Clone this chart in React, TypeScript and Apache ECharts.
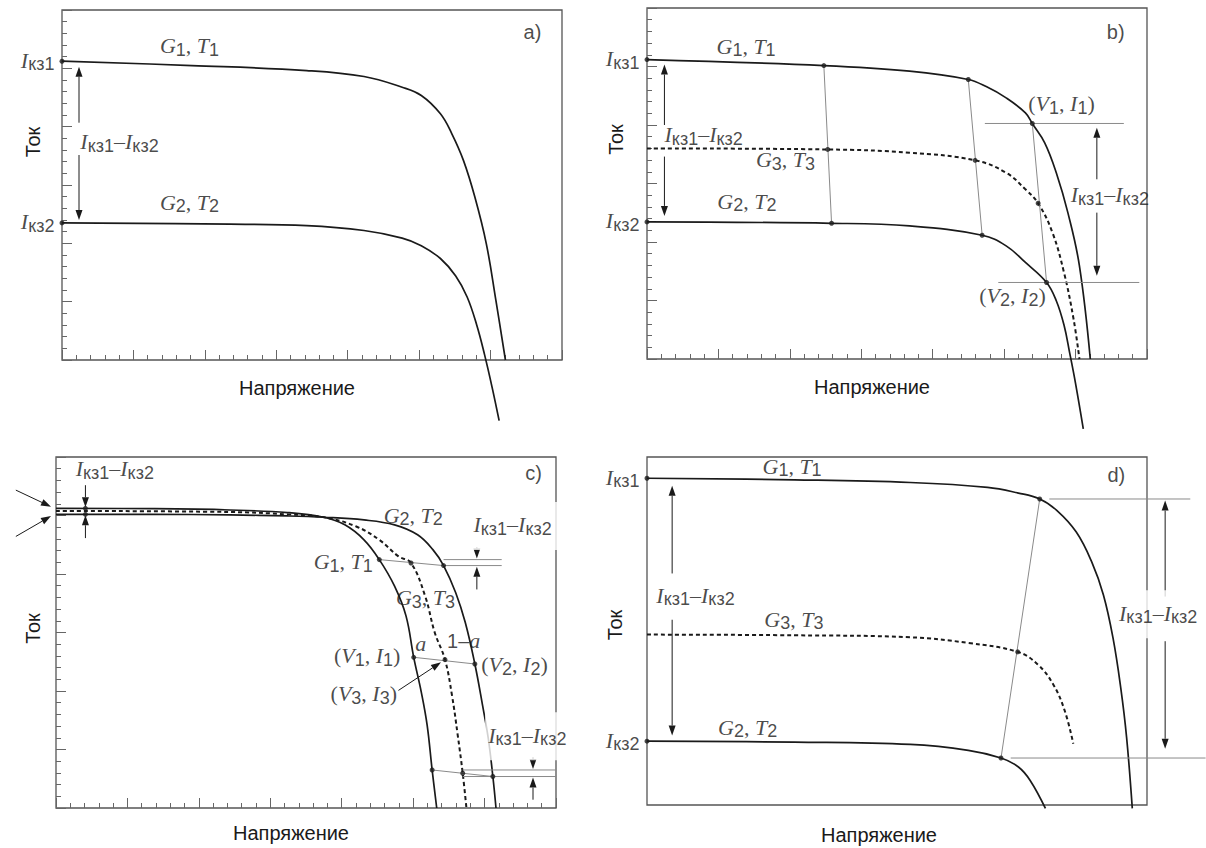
import React, { useEffect, useRef } from 'react';
import * as echarts from 'echarts';

const INK = '#1a1a1a';
const GRAY = '#8a8a8a';

// ---------- rich-text helpers ----------
const isc = (n: number) => `{I|I}{s|кз${n}}`;
const DIFF = `${isc(1)}{n|–}${isc(2)}`;
const gt = (n: number) => `{I|G}{s|${n}}{n|, }{I|T}{s|${n}}`;
const vi = (n: number) => `{n|(}{I|V}{s|${n}}{n|, }{I|I}{s|${n}}{n|)}`;

const X_TITLE = 'Напряжение';
const Y_TITLE = 'Ток';

// ---------- panel a ----------
const A_G1 = [[0, 25.61], [9.1, 25.24], [17.13, 24.81], [21.14, 24.3], [23.81, 23.38], [25.15, 22.67], [26.49, 21.1], [27.29, 19.39], [28.1, 17.11], [28.9, 13.97], [29.7, 9.98], [30.37, 5.13], [31.04, 0]];
const A_G2 = [[0, 11.75], [11.77, 11.64], [17.13, 11.52], [21.14, 11.1], [23.81, 10.45], [25.15, 9.8], [26.49, 8.7], [27.56, 7.2], [28.36, 5.4], [29.03, 3.0], [29.57, 0.5], [30.1, -2.3], [30.6, -5.2]];
const A_ISC = [[0, 25.61, 1], [0, 11.75, 2]];
const A_DOTS: number[][] = [];
const A_LINES: number[][][] = [];
const A_ARROWS = [[[1.19, 20.34], [1.19, 25.14]], [[1.19, 17.57], [1.19, 12.0]]];
const A_TEXT = [
  { x: 8.96, y: 26.81, t: gt(1) },
  { x: 8.96, y: 13.4, t: gt(2) },
  { x: 4.06, y: 18.6, t: DIFF },
  { x: 32.97, y: 28.11, t: '{L|a)}' },
];

// ---------- panel b ----------
const B_G1 = [[0, 25.59], [12.38, 25.08], [18.38, 24.6], [22.49, 23.89], [23.78, 23.26], [25.14, 22.32], [26.49, 21.04], [26.97, 20.13], [27.84, 18.48], [28.65, 15.92], [29.46, 12.51], [30.27, 7.96], [31.03, 0]];
const B_G2 = [[0, 11.72], [12.92, 11.6], [18.38, 11.37], [23.46, 10.58], [25.14, 9.67], [26.49, 8.25], [27.97, 6.54], [28.65, 4.98], [29.19, 2.9], [29.59, 0.5], [30.0, -2.1], [30.54, -5.97]];
const B_G3 = [[0, 18.0], [12.65, 17.91], [18.38, 17.63], [22.97, 16.98], [25.14, 15.92], [26.49, 14.5], [27.38, 13.31], [28.38, 10.81], [29.19, 7.39], [29.86, 3.41], [30.27, 0]];
const B_ISC = [[0, 25.59, 1], [0, 11.72, 2]];
const B_DOTS = [[12.38, 25.08], [22.49, 23.89], [26.97, 20.13], [12.65, 17.91], [22.97, 16.98], [27.38, 13.31], [12.92, 11.6], [23.46, 10.58], [27.97, 6.54]];
const B_LINES = [
  [[12.38, 25.08], [12.92, 11.6]], [[22.49, 23.89], [23.46, 10.58]], [[26.97, 20.13], [27.97, 6.54]],
  [[23.65, 20.13], [33.38, 20.13]], [[24.59, 6.54], [34.46, 6.54]],
];
const B_ARROWS = [
  [[1.22, 20.0], [1.22, 25.17]], [[1.22, 17.3], [1.22, 12.23]],
  [[31.49, 15.36], [31.49, 19.76]], [[31.49, 12.51], [31.49, 7.11]],
];
const B_TEXT = [
  { x: 6.97, y: 26.59, t: gt(1) },
  { x: 9.73, y: 16.92, t: gt(3) },
  { x: 7.03, y: 13.37, t: gt(2) },
  { x: 4.0, y: 19.05, t: DIFF },
  { x: 29.05, y: 21.67, t: vi(1) },
  { x: 25.62, y: 5.26, t: vi(2) },
  { x: 32.84, y: 27.87, t: '{L|b)}' },
  { x: 32.43, y: 13.93, t: DIFF },
];

// ---------- panel c ----------
const C_G1 = [[0, 25.61], [6.83, 25.58], [12.18, 25.47], [16.2, 25.25], [18.75, 24.85], [20.22, 24.2], [21.56, 22.92], [22.63, 21.23], [23.7, 18.96], [24.5, 16.42], [25.04, 12.88], [25.57, 9.91], [25.98, 7.08], [26.33, 3.25], [26.65, 0]];
const C_G2 = [[0, 25.1], [6.83, 25.1], [12.18, 25.05], [16.2, 24.96], [18.75, 24.85], [21.56, 24.62], [23.7, 24.2], [25.31, 23.35], [26.38, 22.08], [27.13, 20.72], [27.98, 18.4], [28.65, 15.85], [29.32, 12.31], [29.86, 8.77], [30.26, 5.94], [30.58, 2.69], [30.8, 0]];
const C_G3 = [[0, 25.39], [12.18, 25.3], [16.2, 25.1], [18.75, 24.85], [21.02, 24.06], [22.63, 22.92], [23.97, 21.51], [24.85, 20.94], [25.84, 18.11], [26.51, 15.0], [27.23, 12.68], [27.72, 9.62], [28.12, 6.23], [28.47, 2.97], [28.73, 0]];
const C_ISC: number[][] = [];
const C_DOTS = [[22.63, 21.23], [24.85, 20.94], [27.13, 20.72], [25.04, 12.88], [27.23, 12.68], [29.32, 12.31], [26.33, 3.25], [28.47, 2.97], [30.58, 2.69], [2.06, 25.61], [2.06, 25.1]];
const C_LINES = [
  [[22.63, 21.23], [27.13, 20.72]], [[27.13, 21.23], [31.2, 21.23]], [[27.13, 20.72], [31.2, 20.72]],
  [[25.04, 12.88], [29.32, 12.31]],
  [[26.33, 3.25], [30.58, 2.69]], [[28.47, 3.25], [35, 3.25]], [[28.47, 2.69], [35, 2.69]],
];
const C_ARROWS = [
  [[2.06, 27.59], [2.06, 25.7]], [[2.06, 23.07], [2.06, 25.02]],
  [[-2.81, 27.17], [-0.35, 25.75]], [[-2.81, 23.21], [-0.35, 24.95]],
  [[29.46, 22.3], [29.46, 21.32]], [[29.46, 18.68], [29.46, 20.62]],
  [[33.39, 4.35], [33.39, 3.33]], [[33.39, 0.71], [33.39, 2.6]],
  [[23.97, 10.05], [26.95, 12.45]],
];
const C_TEXT = [
  { x: 4.15, y: 28.87, t: DIFF },
  { x: 33.47, y: 28.58, t: '{L|c)}' },
  { x: 25.04, y: 24.91, t: gt(2) },
  { x: 20.14, y: 20.94, t: gt(1) },
  { x: 25.9, y: 17.83, t: gt(3) },
  { x: 25.57, y: 13.95, t: '{I|a}' },
  { x: 28.57, y: 14.21, t: '{L|1–}{I|a}' },
  { x: 21.82, y: 12.88, t: vi(1) },
  { x: 32.13, y: 12.11, t: vi(2) },
  { x: 21.58, y: 9.62, t: vi(3) },
  { x: 32.1, y: 24.06, t: DIFF, bg: true },
  { x: 33.13, y: 6.08, t: DIFF, bg: true },
];

// ---------- panel d ----------
const D_G1 = [[0, 28.17], [10.32, 28.03], [18.43, 27.8], [23.84, 27.38], [26.0, 26.89], [27.49, 26.38], [28.7, 25.38], [30.05, 23.53], [31.13, 20.96], [31.95, 18.11], [32.62, 14.4], [33.16, 10.12], [33.57, 5.85], [33.97, -0.29]];
const D_G2 = [[0, 5.5], [10.32, 5.42], [18.43, 5.22], [22.49, 4.71], [24.78, 4.05], [26.0, 3.28], [26.81, 2.14], [27.89, -0.29]];
const D_G3 = [[0, 14.69], [10.32, 14.63], [18.43, 14.46], [22.49, 13.97], [25.95, 13.2], [27.35, 12.12], [28.43, 10.41], [29.24, 8.13], [29.84, 5.28]];
const D_ISC = [[0, 28.17, 1], [0, 5.5, 2]];
const D_DOTS = [[27.49, 26.38], [25.95, 13.2], [24.78, 4.05]];
const D_LINES = [[[27.49, 26.38], [24.78, 4.05]], [[28.16, 26.38], [38.03, 26.38]], [[25.46, 4.05], [39.1, 4.05]]];
const D_ARROWS = [
  [[1.76, 19.96], [1.76, 27.52]], [[1.76, 15.97], [1.76, 5.99]],
  [[36.27, 17.97], [36.27, 26.24]], [[36.27, 14.12], [36.27, 4.85]],
];
const D_TEXT = [
  { x: 10.19, y: 29.09, t: gt(1) },
  { x: 10.32, y: 15.88, t: gt(3) },
  { x: 7.08, y: 6.56, t: gt(2) },
  { x: 32.89, y: 28.37, t: '{L|d)}' },
  { x: 3.43, y: 17.97, t: DIFF },
  { x: 35.92, y: 16.4, t: DIFF, bg: true },
];

const RICH = {
  I: { fontFamily: 'Liberation Serif', fontStyle: 'italic', fontSize: 22, color: INK, lineHeight: 24, verticalAlign: 'bottom', padding: [0, 0, 2, 0] },
  n: { fontFamily: 'Liberation Serif', fontSize: 22, color: INK, lineHeight: 24, verticalAlign: 'bottom', padding: [0, 0, 2, 0] },
  s: { fontFamily: 'Liberation Sans', fontSize: 18, color: INK, lineHeight: 19, verticalAlign: 'bottom' },
  L: { fontFamily: 'Liberation Sans', fontSize: 20, color: INK, lineHeight: 24, verticalAlign: 'bottom', padding: [0, 0, 2, 0] },
};

const PANELS = [
  { curves: [A_G1, A_G2], dashed: null as any, isc: A_ISC, dots: A_DOTS, lines: A_LINES, arrows: A_ARROWS, texts: A_TEXT, ticks: true },
  { curves: [B_G1, B_G2], dashed: B_G3, isc: B_ISC, dots: B_DOTS, lines: B_LINES, arrows: B_ARROWS, texts: B_TEXT, ticks: true },
  { curves: [C_G1, C_G2], dashed: C_G3, isc: C_ISC, dots: C_DOTS, lines: C_LINES, arrows: C_ARROWS, texts: C_TEXT, ticks: true },
  { curves: [D_G1, D_G2], dashed: D_G3, isc: D_ISC, dots: D_DOTS, lines: D_LINES, arrows: D_ARROWS, texts: D_TEXT, ticks: false },
];

const GRIDS = [
  { left: 62, top: 10, width: 500, height: 350 },
  { left: 647, top: 8, width: 500, height: 351 },
  { left: 56, top: 457, width: 500, height: 351 },
  { left: 647, top: 457, width: 500, height: 348 },
];
const X_NAME = [{ gap: 18, shift: 30 }, { gap: 18, shift: 50 }, { gap: 15, shift: 30 }, { gap: 20, shift: 36 }];
const Y_NAME = [{ gap: 19, shift: 86 }, { gap: 21, shift: 88 }, { gap: 13, shift: 8 }, { gap: 22, shift: 12 }];

// segment renderer: kind 0 = thin gray line, kind 1 = arrow (head at second point)
function renderSegment(_params: any, api: any) {
  const p1 = api.coord([api.value(0), api.value(1)]);
  const p2 = api.coord([api.value(2), api.value(3)]);
  const kind = api.value(4);
  if (kind === 0) {
    return { type: 'line', shape: { x1: p1[0], y1: p1[1], x2: p2[0], y2: p2[1] }, style: { stroke: GRAY, lineWidth: 1 } };
  }
  const dx = p2[0] - p1[0];
  const dy = p2[1] - p1[1];
  const len = Math.hypot(dx, dy) || 1;
  const ux = dx / len;
  const uy = dy / len;
  const hl = Math.min(10, len);
  const hw = 3.5;
  const bx = p2[0] - ux * hl;
  const by = p2[1] - uy * hl;
  return {
    type: 'group',
    children: [
      { type: 'line', shape: { x1: p1[0], y1: p1[1], x2: bx, y2: by }, style: { stroke: INK, lineWidth: 1 } },
      { type: 'polygon', shape: { points: [[p2[0], p2[1]], [bx - uy * hw, by + ux * hw], [bx + uy * hw, by - ux * hw]] }, style: { fill: INK } },
    ],
  };
}

function buildOption() {
  const nameStyle = { fontFamily: 'Liberation Sans', fontSize: 20, color: INK };
  const xAxis = GRIDS.map((_, i) => ({
    gridIndex: i, type: 'value', min: 0, max: 35, interval: 5,
    axisLine: { show: false },
    axisTick: { show: PANELS[i].ticks, inside: true, length: 10, lineStyle: { color: '#666', width: 1 } },
    minorTick: { show: PANELS[i].ticks, splitNumber: 5, length: 5, lineStyle: { color: '#666', width: 1 } },
    axisLabel: { show: false }, splitLine: { show: false },
    name: X_TITLE, nameLocation: 'middle', nameGap: X_NAME[i].gap,
    nameTextStyle: { ...nameStyle, padding: [0, X_NAME[i].shift, 0, 0] },
  }));
  const yAxis = GRIDS.map((_, i) => ({
    gridIndex: i, type: 'value', min: 0, max: 30, interval: 5,
    axisLine: { show: false },
    axisTick: { show: PANELS[i].ticks, inside: true, length: 10, lineStyle: { color: '#666', width: 1 } },
    minorTick: { show: PANELS[i].ticks, splitNumber: 5, length: 5, lineStyle: { color: '#666', width: 1 } },
    axisLabel: { show: false }, splitLine: { show: false },
    name: Y_TITLE, nameLocation: 'middle', nameGap: Y_NAME[i].gap,
    nameTextStyle: { ...nameStyle, padding: [0, 0, 0, Y_NAME[i].shift] },
  }));
  const series: any[] = [];
  PANELS.forEach((p, i) => {
    const ax = { xAxisIndex: i, yAxisIndex: i };
    p.curves.forEach((c) => series.push({
      type: 'line', ...ax, data: c, smooth: 0.4, showSymbol: false, symbol: 'none', clip: false, silent: true, z: 3,
      lineStyle: { color: INK, width: 1.7 },
    }));
    if (p.dashed) series.push({
      type: 'line', ...ax, data: p.dashed, smooth: 0.4, showSymbol: false, symbol: 'none', clip: false, silent: true, z: 3,
      lineStyle: { color: INK, width: 2, type: [4, 3] },
    });
    const segs = [
      ...p.lines.map(([a, b]) => [a[0], a[1], b[0], b[1], 0]),
      ...p.arrows.map(([a, b]) => [a[0], a[1], b[0], b[1], 1]),
    ];
    series.push({
      type: 'custom', ...ax, clip: false, silent: true, z: 4,
      renderItem: renderSegment, data: segs, encode: { x: [0, 2], y: [1, 3] },
    });
    series.push({
      type: 'scatter', ...ax, clip: false, silent: true, z: 5, symbolSize: 5,
      itemStyle: { color: INK },
      data: [
        ...p.dots.map((d) => ({ value: d, name: '' })),
        ...p.isc.map((d) => ({ value: [d[0], d[1]], name: isc(d[2]), label: { show: true, position: 'left', distance: 5 } })),
      ],
      label: { show: false, formatter: (q: any) => q.name, rich: RICH },
    });
    series.push({
      type: 'scatter', ...ax, clip: false, silent: true, z: 6, symbolSize: 1,
      itemStyle: { color: 'rgba(0,0,0,0)' },
      data: p.texts.map((t: any) => ({
        value: [t.x, t.y], name: t.t,
        label: t.bg ? { backgroundColor: '#fff', padding: [12, 6, 12, 3] } : {},
      })),
      label: {
        show: true, position: [0, 0], align: 'center', verticalAlign: 'middle',
        formatter: (q: any) => q.name, rich: RICH,
      },
    });
  });
  return {
    animation: false,
    backgroundColor: '#fff',
    grid: GRIDS.map((g) => ({ ...g, show: true, borderColor: '#555', borderWidth: 1.3, backgroundColor: 'transparent' })),
    xAxis, yAxis, series,
  };
}

export default function App() {
  const ref = useRef<HTMLDivElement>(null);
  useEffect(() => {
    const chart = echarts.init(ref.current as HTMLDivElement, null, { renderer: 'svg' });
    chart.setOption(buildOption() as any);
    return () => chart.dispose();
  }, []);
  return <div ref={ref} style={{ position: 'fixed', left: 0, top: 0, width: 1206, height: 848, background: '#fff' }} />;
}
